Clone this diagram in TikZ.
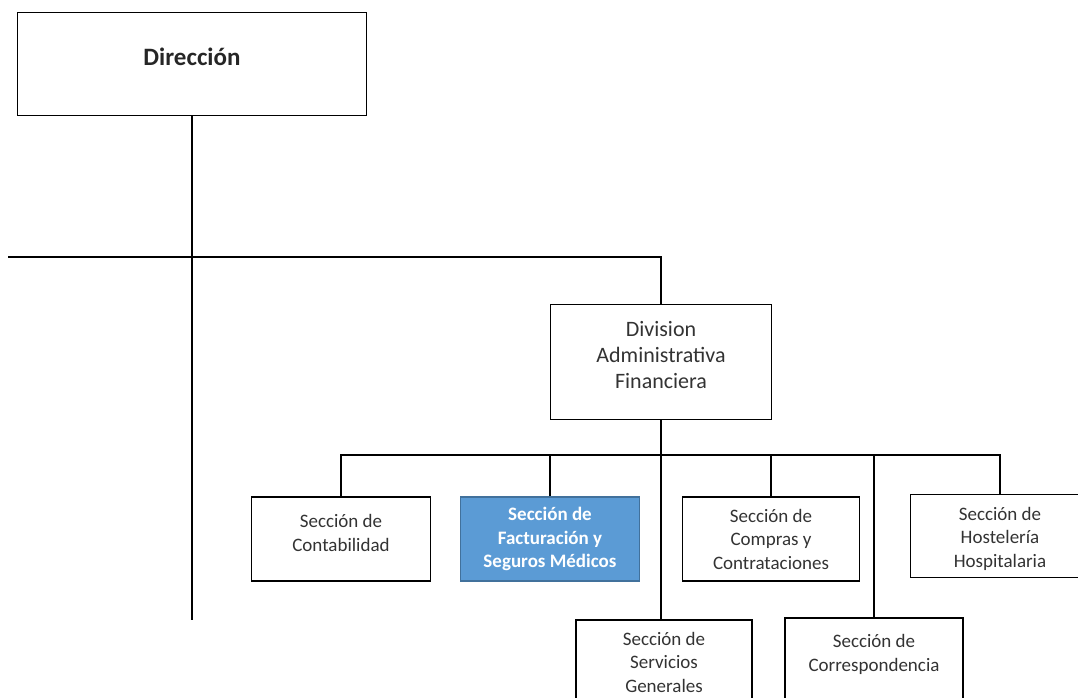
\documentclass[tikz,border=0pt]{standalone}
\usepackage{fontspec}
\setmainfont{Carlito}
\usetikzlibrary{positioning}
\definecolor{azulsec}{HTML}{5B9BD5}
\definecolor{bordeazul}{HTML}{41719C}
\tikzstyle{direccion} = [rectangle, minimum width=349pt, minimum height=103pt, align=center, draw=black, line width=1.2pt, text=black!85, font=\fontsize{25}{27}\selectfont\bfseries]
\tikzstyle{division} = [rectangle, minimum width=221pt, minimum height=115pt, align=center, draw=black, line width=1.2pt, text=black!80, font=\fontsize{22}{26}\selectfont]
\tikzstyle{seccion} = [rectangle, minimum width=179pt, minimum height=84pt, align=center, draw=black, line width=1.2pt, text=black!80, font=\fontsize{19}{23.5}\selectfont]
\tikzstyle{activa} = [seccion, fill=azulsec, draw=bordeazul, text=white, font=\fontsize{19}{23.5}\selectfont\bfseries]
\tikzstyle{linea} = [line width=1.2pt]

\begin{document}
\begin{tikzpicture}[x=1pt, y=-1pt]
    \useasboundingbox (0,0) rectangle (1078,698);
    \node (dir) [direccion] at (192,64) {Dirección\\[-13pt]};
    \node (div) [division] at (661,362) {Division\\Administrativa\\Financiera\\[-12pt]};
    \node (cont) [seccion] at (341,539) {Sección de\\Contabilidad\\[-11.5pt]};
    \node (fact) [activa] at (550,539) {Sección de\\Facturación y\\Seguros Médicos};
    \node (comp) [seccion, minimum width=177pt] at (771,539) {Sección de\\Compras y\\Contrataciones};
    \node (host) [seccion, minimum height=83pt] at (1000,536) {Sección de\\Hostelería\\Hospitalaria\\[-26pt]};
    \node (serv) [seccion, minimum width=176pt] at (664,662) {Sección de\\Servicios\\Generales};
    \node (corr) [seccion, minimum width=178pt, minimum height=86pt] at (874,661) {Sección de\\Correspondencia\\[-7.5pt]};

    \coordinate (finDir) at (192,620);
    \coordinate (izq) at (8,257);
    \coordinate (bus) at (341,455);

    \draw [linea] (dir.south) -- (finDir);
    \draw [linea] (izq) -| (div.north);
    \draw [linea] (div.south) -- (div.south |- serv.north);
    \draw [linea] (cont.north) |- (host.north |- bus) -- (host.north); % barra de secciones
    \draw [linea] (fact.north) -- (fact.north |- bus);
    \draw [linea] (comp.north) -- (comp.north |- bus);
    \draw [linea] (corr.north) -- (corr.north |- bus);
\end{tikzpicture}
\end{document}
